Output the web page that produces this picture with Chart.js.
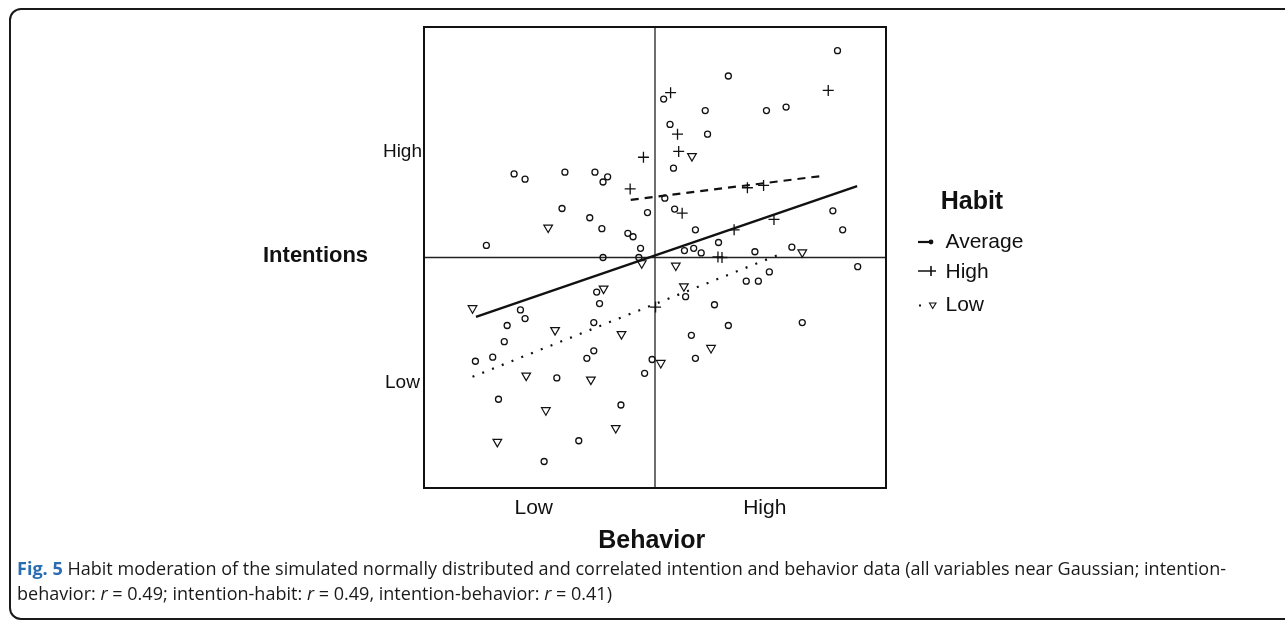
<!DOCTYPE html>
<html><head><meta charset="utf-8">
<script src="https://cdn.jsdelivr.net/npm/chart.js@4.4.1/dist/chart.umd.min.js"></script>
<style>
html,body{margin:0;padding:0;background:#fff;width:1285px;height:620px;overflow:hidden;}
#frame{position:absolute;left:9px;top:8px;width:1300px;height:612px;border:2px solid #1a1a1a;border-radius:12px;box-sizing:border-box;}
#wrap{position:absolute;left:0;top:0;width:1285px;height:620px;}
#cap{position:absolute;left:17px;top:556px;font-family:'Open Sans',sans-serif;font-size:18px;line-height:25px;color:#1a1a1a;white-space:nowrap;transform-origin:0 0;}
#cap b{color:#2a6db0;}
</style></head>
<body>
<div id="frame"></div>
<div id="wrap"><canvas id="c" width="1285" height="620"></canvas></div>
<div id="cap"><span id="l1"><b>Fig. 5</b> Habit moderation of the simulated normally distributed and correlated intention and behavior data (all variables near Gaussian; intention-</span><br><span id="l2">behavior: <i>r</i> = 0.49; intention-habit: <i>r</i> = 0.49, intention-behavior: <i>r</i> = 0.41)</span></div>
<script>
// ---- data ----
const seriesNames = ['Average', 'High', 'Low'];
const legendTitle = 'Habit';
const xAxisTitle = 'Behavior';
const yAxisTitle = 'Intentions';
const xTickLabels = ['Low', 'High'];
const xTickValues = [-2.1, 1.9];
const yTickLabels = ['Low', 'High'];
const yTickValues = [-2.18, 1.83];

const avgX = [-2.44,-2.25,-1.56,-1.04,-0.82,-0.90,-1.61,-1.13,-0.92,-0.13,-0.47,-0.38,-0.25,-2.92,-0.90,-0.28,3.16,1.27,0.15,0.87,1.93,2.27,0.26,0.91,0.32,0.17,0.34,3.08,3.25,0.70,1.10,0.51,0.67,0.80,1.73,2.37,-1.01,-0.96,-2.33,-2.25,-2.56,-1.06,-2.61,-3.11,-2.81,-1.06,-1.18,-0.05,-0.18,-1.70,-2.71,-0.59,-1.32,-1.92,3.51,1.98,1.58,1.79,0.53,1.03,1.27,2.55,0.63,0.70];
const avgY = [1.45,1.36,1.48,1.48,1.40,1.31,0.85,0.69,0.50,0.78,0.42,0.36,0.16,0.21,0.00,0.00,3.59,3.15,2.75,2.55,2.55,2.61,2.31,2.14,1.55,1.03,0.84,0.81,0.48,0.48,0.26,0.12,0.16,0.08,0.10,0.18,-0.60,-0.80,-0.91,-1.06,-1.18,-1.13,-1.46,-1.80,-1.73,-1.62,-1.75,-1.77,-2.01,-2.09,-2.46,-2.56,-3.18,-3.54,-0.16,-0.25,-0.41,-0.41,-0.68,-0.82,-1.18,-1.13,-1.35,-1.75];
const highX = [-0.20,-0.43,0.27,3.00,0.39,0.41,1.60,1.88,0.47,2.06,1.37,1.09,1.16,0.01];
const highY = [1.74,1.19,2.86,2.90,2.14,1.84,1.21,1.25,0.77,0.66,0.48,0.01,0.00,-0.86];
const lowX = [-1.85,0.64,2.55,-0.89,-3.16,-1.73,-0.58,-2.23,-1.11,-1.89,-0.68,-2.73,-0.23,0.36,0.50,0.97,0.10];
const lowY = [0.52,1.76,0.09,-0.54,-0.88,-1.26,-1.33,-2.05,-2.12,-2.65,-2.96,-3.20,-0.10,-0.14,-0.50,-1.57,-1.83];
const avgLineX = [-3.10, 3.50];
const avgLineY = [-1.03, 1.24];
const highLineX = [-0.42, 2.85];
const highLineY = [1.00, 1.41];
const lowLineX = [-3.16, 2.22];
const lowLineY = [-2.07, 0.08];

// ---- chart ----
const pts = (xs, ys) => xs.map((x, i) => ({x: x, y: ys[i]}));
const INK = '#111';
const FONT = "'Liberation Sans', Arial, sans-serif";

const lineStyles = {
  'Average': {dash: [], width: 2.4},
  'High': {dash: [8, 6], width: 2.2},
  'Low': {dash: [2, 8.5], width: 2.2}
};

const decor = {
  id: 'decor',
  beforeDatasetsDraw(chart) {
    const {ctx, chartArea: a, scales: {x, y}} = chart;
    ctx.save();
    ctx.strokeStyle = '#222';
    ctx.lineWidth = 1.3;
    const x0 = x.getPixelForValue(0), y0 = y.getPixelForValue(0);
    ctx.beginPath();
    ctx.moveTo(x0, a.top); ctx.lineTo(x0, a.bottom);
    ctx.moveTo(a.left, y0); ctx.lineTo(a.right, y0);
    ctx.stroke();
    ctx.restore();
  },
  afterDraw(chart) {
    const {ctx, chartArea: a} = chart;
    ctx.save();
    ctx.strokeStyle = INK;
    ctx.lineWidth = 2;
    ctx.strokeRect(a.left, a.top, a.right - a.left, a.bottom - a.top);
    ctx.fillStyle = INK;
    // axis titles
    ctx.font = "bold 22px " + FONT;
    ctx.textAlign = 'left'; ctx.textBaseline = 'alphabetic';
    ctx.fillText(yAxisTitle, 263, 262);
    ctx.font = "bold 25px " + FONT;
    ctx.textAlign = 'center';
    ctx.fillText(xAxisTitle, 651.7, 548);
    // legend
    ctx.textAlign = 'left';
    ctx.fillText(legendTitle, 940.7, 208.5);
    ctx.font = "21px " + FONT;
    const rows = [{base: 248, cy: 242}, {base: 278, cy: 271}, {base: 311, cy: 305.5}];
    seriesNames.forEach((name, i) => {
      const r = rows[i];
      ctx.fillStyle = INK;
      ctx.fillText(name, 945.5, r.base);
      ctx.strokeStyle = INK;
      ctx.lineWidth = 2.2;
      ctx.beginPath();
      if (name === 'Average') {
        ctx.moveTo(918, r.cy); ctx.lineTo(929, r.cy); ctx.stroke();
        ctx.beginPath(); ctx.arc(931, r.cy, 2.4, 0, Math.PI * 2); ctx.fill();
      } else if (name === 'High') {
        ctx.lineWidth = 1.6;
        ctx.moveTo(918, r.cy); ctx.lineTo(936, r.cy);
        ctx.moveTo(931, r.cy - 5); ctx.lineTo(931, r.cy + 5);
        ctx.stroke();
      } else {
        ctx.fillRect(919, r.cy - 1, 2, 2);
        ctx.lineWidth = 1.1;
        ctx.beginPath();
        ctx.moveTo(929.5, r.cy - 2.5); ctx.lineTo(936, r.cy - 2.5); ctx.lineTo(932.7, r.cy + 3); ctx.closePath();
        ctx.stroke();
      }
    });
    ctx.restore();
  }
};

const lineDs = (name, xs, ys) => ({
  label: name + ' fit', type: 'line', data: pts(xs, ys), showLine: true,
  borderColor: INK, borderWidth: lineStyles[name].width, borderDash: lineStyles[name].dash,
  pointRadius: 0, fill: false, tension: 0
});

new Chart(document.getElementById('c'), {
  type: 'scatter',
  data: {
    datasets: [
      lineDs('Average', avgLineX, avgLineY),
      lineDs('High', highLineX, highLineY),
      lineDs('Low', lowLineX, lowLineY),
      {label: seriesNames[0], data: pts(avgX, avgY), pointStyle: 'circle', pointRadius: 3, borderWidth: 1.3, borderColor: INK, backgroundColor: 'rgba(255,255,255,0)'},
      {label: seriesNames[1], data: pts(highX, highY), pointStyle: 'cross', pointRadius: 5.5, borderWidth: 1.3, borderColor: INK, backgroundColor: INK},
      {label: seriesNames[2], data: pts(lowX, lowY), pointStyle: 'triangle', rotation: 180, pointRadius: 5, borderWidth: 1.2, borderColor: INK, backgroundColor: 'rgba(255,255,255,0)'}
    ]
  },
  options: {
    responsive: false, animation: false, devicePixelRatio: 1,
    layout: {padding: {left: 0, right: 399, top: 27, bottom: 70}},
    plugins: {legend: {display: false}, tooltip: {enabled: false}},
    scales: {
      x: {
        type: 'linear', min: -4, max: 4,
        afterFit(s) { s.height = 62; },
        afterBuildTicks(s) { s.ticks = xTickValues.map(v => ({value: v})); },
        ticks: {callback: (v, i) => xTickLabels[i], font: {family: FONT, size: 21}, color: INK, padding: 8, maxRotation: 0, autoSkip: false},
        grid: {display: false, drawTicks: false}, border: {display: false}
      },
      y: {
        type: 'linear', min: -4, max: 4,
        afterFit(s) { s.width = 424; },
        afterBuildTicks(s) { s.ticks = yTickValues.map(v => ({value: v})); },
        ticks: {callback: (v, i) => yTickLabels[i], font: {family: FONT, size: 19}, color: INK, padding: 2, crossAlign: 'center', autoSkip: false},
        grid: {display: false, drawTicks: false}, border: {display: false}
      }
    }
  },
  plugins: [decor]
});

// fit caption lines to the reference width
const cap = document.getElementById('cap');
const w = document.getElementById('l1').getBoundingClientRect().width;
cap.style.transform = 'scaleX(' + (1209 / w) + ')';
</script>
</body></html>
